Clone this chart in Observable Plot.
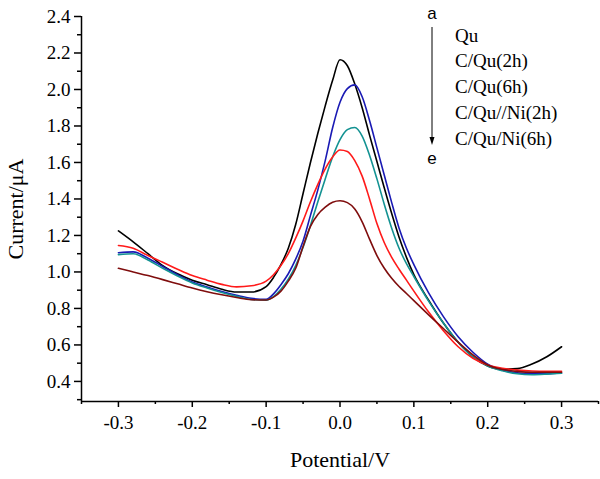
<!DOCTYPE html>
<html>
<head>
<meta charset="utf-8">
<script src="https://cdn.jsdelivr.net/npm/d3@7"></script>
<script src="https://cdn.jsdelivr.net/npm/@observablehq/plot@0.6"></script>
<style>
  html, body { margin: 0; padding: 0; background: #fff; }
  #wrap { position: relative; width: 600px; height: 479px; }
  #legend { position: absolute; left: 0; top: 0; pointer-events: none; }
</style>
</head>
<body>
<div id="wrap"></div>
<script>
// ---- data ----
const potential = [-0.30,-0.28,-0.26,-0.24,-0.22,-0.20,-0.18,-0.16,-0.14,-0.12,-0.10,
  -0.09,-0.08,-0.07,-0.06,-0.05,-0.04,-0.03,-0.02,-0.01,0.00,0.01,0.02,0.03,0.04,0.05,0.06,0.07,0.08,0.09,
  0.10,0.12,0.14,0.16,0.18,0.20,0.22,0.24,0.26,0.28,0.30];
const currentQu = [1.225,1.165,1.10,1.035,0.99,0.955,0.93,0.905,0.89,0.89,0.92,
  0.97,1.04,1.13,1.26,1.43,1.60,1.76,1.91,2.05,2.163,2.13,2.03,1.90,1.75,1.605,1.46,1.32,1.19,1.08,
  0.985,0.845,0.72,0.615,0.535,0.485,0.467,0.47,0.495,0.535,0.59];
const currentCQu2h = [1.105,1.11,1.075,1.03,0.985,0.945,0.918,0.893,0.872,0.855,0.85,
  0.88,0.93,0.99,1.07,1.17,1.31,1.45,1.61,1.79,1.93,2.005,2.025,1.96,1.83,1.68,1.53,1.38,1.24,1.13,
  1.04,0.885,0.755,0.645,0.56,0.495,0.462,0.447,0.442,0.442,0.446];
const currentCQu6h = [1.095,1.10,1.065,1.02,0.978,0.94,0.912,0.887,0.866,0.849,0.845,
  0.865,0.905,0.96,1.035,1.135,1.255,1.385,1.51,1.63,1.725,1.78,1.792,1.745,1.64,1.51,1.37,1.24,1.13,1.045,
  0.975,0.84,0.72,0.615,0.535,0.485,0.458,0.442,0.437,0.44,0.445];
const currentCQuNi2h = [1.145,1.13,1.09,1.053,1.015,0.98,0.955,0.932,0.918,0.924,0.95,
  0.985,1.035,1.10,1.185,1.28,1.385,1.48,1.565,1.63,1.668,1.66,1.61,1.525,1.40,1.265,1.16,1.08,1.015,0.955,
  0.895,0.78,0.678,0.59,0.527,0.49,0.472,0.462,0.457,0.456,0.456];
const currentCQuNi6h = [1.02,1.00,0.98,0.958,0.935,0.912,0.892,0.875,0.86,0.848,0.846,
  0.862,0.895,0.95,1.02,1.14,1.25,1.315,1.355,1.382,1.39,1.38,1.345,1.275,1.18,1.09,1.02,0.965,0.92,0.882,
  0.843,0.765,0.69,0.615,0.545,0.49,0.465,0.455,0.45,0.45,0.45];

const seriesNames  = ["Qu", "C/Qu(2h)", "C/Qu(6h)", "C/Qu//Ni(2h)", "C/Qu/Ni(6h)"];
const seriesValues = [currentQu, currentCQu2h, currentCQu6h, currentCQuNi2h, currentCQuNi6h];
const seriesColors = ["#000000", "#1a1ab4", "#139292", "#ff1a1a", "#7f0d0d"];

const yTicks  = [0.4,0.6,0.8,1.0,1.2,1.4,1.6,1.8,2.0,2.2,2.4];
const yMinor  = [0.3,0.5,0.7,0.9,1.1,1.3,1.5,1.7,1.9,2.1,2.3];
const xTicks  = [-0.3,-0.2,-0.1,0.0,0.1,0.2,0.3];
const xMinor  = [-0.35,-0.25,-0.15,-0.05,0.05,0.15,0.25,0.35];
const xDomain = [-0.35, 0.35];
const yDomain = [0.29, 2.4];

const rows = seriesNames.flatMap((name, i) =>
  potential.map((p, j) => ({series: name, potential: p, current: seriesValues[i][j]})));

const serif = "'Liberation Serif', 'Times New Roman', serif";
const fmt = d => d.toFixed(1);

const chart = Plot.plot({
  width: 600,
  height: 479,
  marginLeft: 81,
  marginRight: 2,
  marginTop: 16,
  marginBottom: 78,
  style: {fontFamily: serif, color: "#000", background: "#fff", overflow: "visible"},
  x: {domain: xDomain},
  y: {domain: yDomain},
  color: {domain: seriesNames, range: seriesColors},
  marks: [
    Plot.axisY({ticks: yTicks, tickSize: 7, tickPadding: 4, tickFormat: fmt, label: null, fontSize: 19, strokeWidth: 1.5}),
    Plot.axisY({ticks: yMinor, tickSize: 4, tickFormat: () => "", label: null, strokeWidth: 1.5}),
    Plot.axisX({ticks: xTicks, tickSize: 6, tickPadding: 8, tickFormat: fmt, label: null, fontSize: 19, strokeWidth: 1.5}),
    Plot.axisX({ticks: xMinor, tickSize: 3, tickFormat: () => "", label: null, strokeWidth: 1.5}),
    Plot.ruleX([xDomain[0]], {stroke: "#000", strokeWidth: 1.5}),
    Plot.ruleY([yDomain[0]], {stroke: "#000", strokeWidth: 1.5}),
    Plot.line(rows, {x: "potential", y: "current", z: "series", stroke: "series", strokeWidth: 1.6, curve: "monotone-x"}),
    Plot.text(["Current/\u03bcA"], {frameAnchor: "left", textAnchor: "middle", dx: -66, rotate: -90, fontSize: 22, fontFamily: serif}),
    Plot.text(["Potential/V"], {frameAnchor: "bottom", textAnchor: "middle", dy: 65, fontSize: 22, fontFamily: serif})
  ]
});

const wrap = document.getElementById("wrap");
wrap.appendChild(chart);

// legend (a -> e arrow with series names)
const ns = "http://www.w3.org/2000/svg";
const leg = document.createElementNS(ns, "svg");
leg.setAttribute("id", "legend");
leg.setAttribute("width", 600);
leg.setAttribute("height", 479);
const lx = 432, tx = 455, y0 = 35, dy = 25.8;
function el(tag, attrs, text) {
  const e = document.createElementNS(ns, tag);
  for (const k in attrs) e.setAttribute(k, attrs[k]);
  if (text != null) e.textContent = text;
  leg.appendChild(e);
  return e;
}
el("text", {x: lx, y: 13, "text-anchor": "middle", "dominant-baseline": "central", "font-family": "'Liberation Sans', Arial, sans-serif", "font-size": 17}, "a");
el("line", {x1: lx, y1: 27, x2: lx, y2: 141, stroke: "#000", "stroke-width": 1});
el("path", {d: `M${lx-2.5},${137} L${lx+2.5},${137} L${lx},${145} Z`, fill: "#000"});
el("text", {x: lx, y: 158, "text-anchor": "middle", "dominant-baseline": "central", "font-family": "'Liberation Sans', Arial, sans-serif", "font-size": 17}, "e");
seriesNames.forEach((name, i) => {
  el("text", {x: tx, y: y0 + i * dy, "dominant-baseline": "central", "font-family": serif, "font-size": 19}, name);
});
wrap.appendChild(leg);
</script>
</body>
</html>
